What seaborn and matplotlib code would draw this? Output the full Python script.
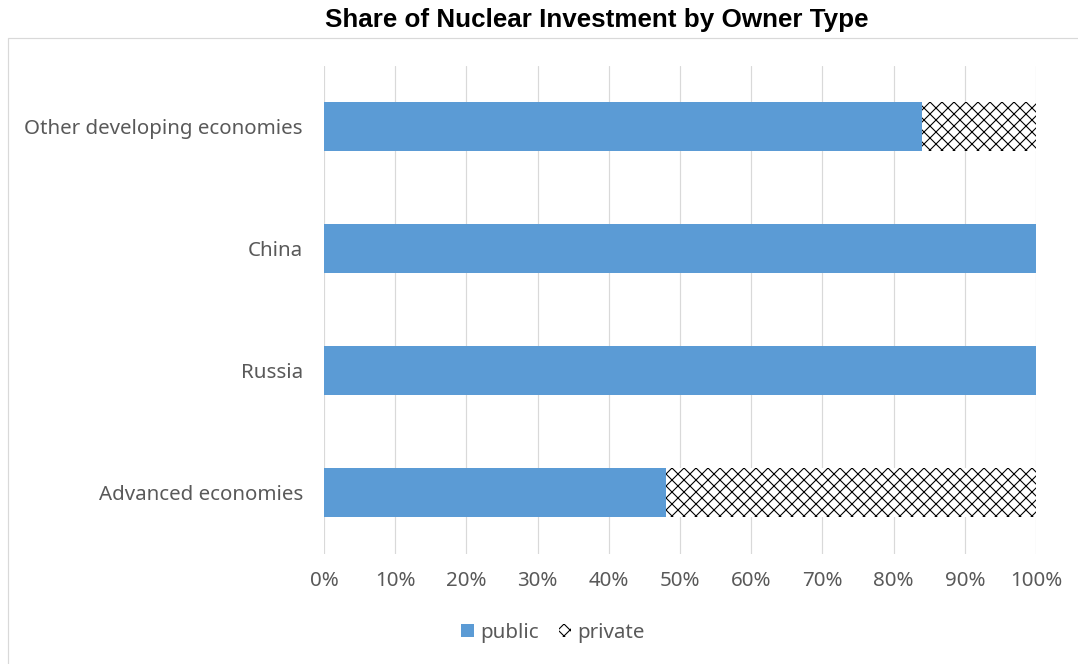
import matplotlib
matplotlib.use("Agg")
import matplotlib.pyplot as plt
from matplotlib.patches import Patch, Rectangle
from matplotlib.ticker import PercentFormatter
import seaborn as sns
import pandas as pd

categories = ["Other developing economies", "China", "Russia", "Advanced economies"]
public_share = [84, 100, 100, 48]
private_share = [16, 0, 0, 52]
x_ticks = [0, 10, 20, 30, 40, 50, 60, 70, 80, 90, 100]

BLUE = "#5B9BD5"
GRAY_TEXT = "#595959"

sns.set_theme(style="white")
plt.rcParams["font.family"] = ["Noto Sans", "DejaVu Sans"]
plt.rcParams["hatch.linewidth"] = 1.1

df = pd.DataFrame({
    "category": categories,
    "public": public_share,
    "private": private_share,
})
df["total"] = df["public"] + df["private"]

W, H, DPI = 1078, 664, 72
fig = plt.figure(figsize=(W / DPI, H / DPI), dpi=DPI)

# outer chart frame
fig.patches.append(Rectangle((8 / W, -0.05), 1.2, (H - 38) / H + 0.05,
                             transform=fig.transFigure, fill=False,
                             edgecolor="#D9D9D9", linewidth=1.2, zorder=0))

left, right = 324 / W, 1036 / W
top, bottom = 1 - 65.5 / H, 1 - 553.5 / H
ax = fig.add_axes([left, bottom, right - left, top - bottom])

# stacked horizontal bars: hatched total underneath, public share on top
sns.barplot(data=df, y="category", x="total", order=categories, orient="h",
            color="white", edgecolor="black", linewidth=0, hatch="xx",
            width=0.4, ax=ax, zorder=2)
sns.barplot(data=df, y="category", x="public", order=categories, orient="h",
            color=BLUE, saturation=1, linewidth=0, width=0.4, ax=ax, zorder=3)

ax.set_xlim(0, 100)
ax.set_ylim(3.5, -0.5)
ax.set_xticks(x_ticks)
ax.xaxis.set_major_formatter(PercentFormatter(decimals=0))
ax.grid(axis="x", color="#D9D9D9", linewidth=1.2, zorder=0)
ax.set_axisbelow(True)
for s in ax.spines.values():
    s.set_visible(False)
ax.set_xlabel("")
ax.set_ylabel("")
ax.tick_params(axis="x", length=0, pad=17, labelsize=20.5, labelcolor=GRAY_TEXT)
ax.tick_params(axis="y", length=0, pad=21, labelsize=20.5, labelcolor=GRAY_TEXT)

fig.text(596.5 / W, 1 - 20 / H, "Share of Nuclear Investment by Owner Type",
         ha="center", va="center", fontsize=26, fontweight="bold",
         color="black", family=["Liberation Sans", "DejaVu Sans"])

handles = [Patch(facecolor=BLUE, edgecolor="none", label="public"),
           Patch(facecolor="white", edgecolor="black", linewidth=0, hatch="xx", label="private")]
leg = fig.legend(handles=handles, loc="center", bbox_to_anchor=(553 / W, 1 - 633 / H),
                 ncol=2, frameon=False, fontsize=20.5, handlelength=0.6, handleheight=0.6,
                 handletextpad=0.3, columnspacing=1.0)
for t in leg.get_texts():
    t.set_color(GRAY_TEXT)

fig.savefig("out.png", dpi=DPI)
